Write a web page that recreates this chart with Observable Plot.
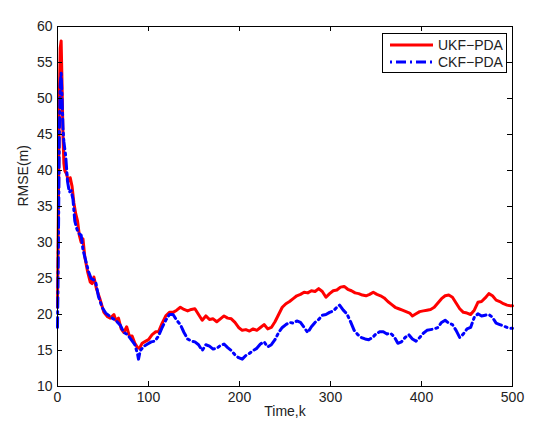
<!DOCTYPE html>
<html>
<head>
<meta charset="utf-8">
<script src="https://cdn.jsdelivr.net/npm/d3@7"></script>
<script src="https://cdn.jsdelivr.net/npm/@observablehq/plot@0.6"></script>
<style>
  html, body { margin: 0; padding: 0; background: #fff; }
  #chart { position: relative; width: 556px; height: 431px; }
  #legend { position: absolute; left: 382px; top: 33px; width: 123px; height: 38px;
    border: 1px solid #000; background: #fff; box-sizing: content-box;
    font-family: 'Liberation Sans', Arial, Helvetica, sans-serif; font-size: 14px; color: #222; }
  #legend .row { position: absolute; left: 0; height: 17px; display: flex; align-items: center; }
  #legend svg { display: block; margin-left: 7px; margin-right: 5px; }
</style>
</head>
<body>
<div id="chart"><div id="legend"></div></div>
<script>
// ---- data ----
const seriesNames = ["UKF\u2212PDA", "CKF\u2212PDA"];
const seriesColors = ["#ff0000", "#0000ff"];
const seriesDash = [null, "2,4,10,4"];
const xTicks = [0, 100, 200, 300, 400, 500];
const yTicks = [10, 15, 20, 25, 30, 35, 40, 45, 50, 55, 60];
const xLabel = "Time,k";
const yLabel = "RMSE(m)";

const ukfK = [0,1,2,3,4,5,6,7,8,10,12,14,16,18,20,22,24,26,28,30,33,36,38,40,43,47,51,55,58,62,64,67,70,73,76,79,82,85,88,90,93,97,100,104,108,111,115,119,123,127,131,135,139,143,147,151,155,159,163,167,171,175,179,183,187,191,195,199,203,207,211,215,219,223,227,231,235,239,243,247,251,255,259,263,267,271,275,279,283,287,291,295,299,303,307,311,315,319,323,327,331,335,339,343,347,351,355,359,363,367,371,375,379,383,387,390,394,398,402,406,410,414,418,422,426,430,434,438,442,446,450,454,458,462,466,470,474,478,482,486,490,494,498,500];
const ukfV = [21,35,50,57,58,52,45,41,40,39.5,38.5,39,37.8,35.5,34,33,31,30,30.5,28,26,24.5,24.3,25.2,23.5,22,20.3,19.7,19.5,20,19.2,19.5,18,17.5,18.3,17,17,16,15.4,15.3,16,16.3,16.5,17.2,17.6,17.6,18.8,19.8,20.3,20.3,20.6,21,20.7,20.5,20.7,20.8,20,19.2,19.8,19.3,19.4,19,19.4,19.8,19.5,19.4,18.9,18.2,17.8,17.9,17.7,18,17.8,18.2,18.6,18,18.2,19,20,21,21.5,21.8,22.2,22.6,22.8,23.1,23,23.3,23.2,23.6,23.2,22.4,22.9,23.3,23.4,23.8,23.9,23.5,23.3,23,22.9,22.7,22.6,22.8,23.1,22.8,22.6,22.3,21.8,21.4,21,20.8,20.6,20.4,20.2,19.8,20.1,20.4,20.5,20.6,20.7,21,21.6,22.2,22.6,22.7,22.4,21.6,20.8,20.3,20.2,20,20.6,21.7,21.8,22.3,22.9,22.6,22,21.8,21.5,21.3,21.2,21.2];

const ckfK = [0,1,2,3,4,5,6,7,9,11,13,15,17,19,21,23,26,28,31,34,37,40,42,45,49,53,57,60,64,69,73,77,81,85,88,89,91,95,99,103,107,111,115,119,123,127,131,135,139,143,147,151,155,159,163,167,171,175,179,183,187,191,195,199,203,207,211,215,219,223,227,231,235,239,243,247,251,255,259,263,267,271,275,279,283,287,291,295,299,303,307,310,314,318,322,326,330,334,338,342,346,350,354,358,362,366,370,374,378,382,386,390,394,398,402,406,410,414,418,422,426,430,434,438,442,446,450,454,458,462,466,470,474,478,482,486,490,494,498,500];
const ckfV = [18.2,30,45,52,53.5,50,46,44,42,38.5,37,37.2,36,33,32,31.3,31,29,27.5,26,25,24.8,24.5,22.5,21,20.2,19.8,19.5,19.2,18.5,17.5,17.2,16.5,15.8,14.5,13.8,15,15.6,15.9,16.2,16.3,17,18.2,19.2,20,20,19.2,18.6,17.5,16.6,16.3,16.2,15.8,15,15.8,15.6,15.2,15.3,15.7,15.9,15.4,15,14.4,14,13.8,14.3,14.6,15,15.3,15.9,16.2,15.5,15.8,16.5,17.5,18.2,18.6,18.9,18.8,19.1,18.9,18.2,17.5,18.3,18.9,19.3,19.9,20,20.3,20.5,21,21.3,20.6,20.1,19,17.8,17.2,16.8,16.6,16.5,16.8,17.3,17.6,17.6,17.3,17.4,16.9,16,16.2,16.8,17.2,16.6,16.3,16.8,17.4,17.8,17.9,18,18.2,18.9,19.2,18.8,18.6,17.8,16.8,17.3,18,18.2,19.6,20.1,19.8,19.9,20,19.6,18.8,18.6,18.4,18.2,18.1,18.1];

const ukf = ukfK.map((k, i) => ({k, v: ukfV[i]}));
const ckf = ckfK.map((k, i) => ({k, v: ckfV[i]}));

const W = 556, H = 431;
const mL = 57, mR = 44, mT = 26, mB = 45;
const fw = W - mL - mR, fh = H - mT - mB;
const tickLen = 5;

const chart = Plot.plot({
  width: W, height: H,
  marginLeft: mL, marginRight: mR, marginTop: mT, marginBottom: mB,
  x: {domain: [0, 500]},
  y: {domain: [10, 60]},
  style: {fontFamily: "'Liberation Sans', Arial, Helvetica, sans-serif", fontSize: "14px", background: "#fff", color: "#222"},
  marks: [
    Plot.line(ukf, {x: "k", y: "v", stroke: seriesColors[0], strokeWidth: 3, strokeLinejoin: "round"}),
    Plot.line(ckf, {x: "k", y: "v", stroke: seriesColors[1], strokeWidth: 3, strokeDasharray: "10,4,2,4"}),
    Plot.frame({stroke: "#000", strokeWidth: 1}),
    Plot.tickX(xTicks, {x: d => d, insetTop: fh - tickLen, stroke: "#000"}),
    Plot.tickX(xTicks, {x: d => d, insetBottom: fh - tickLen, stroke: "#000"}),
    Plot.tickY(yTicks, {y: d => d, insetRight: fw - tickLen, stroke: "#000"}),
    Plot.tickY(yTicks, {y: d => d, insetLeft: fw - tickLen, stroke: "#000"}),
    Plot.axisX(xTicks, {anchor: "bottom", tickSize: 0, tickPadding: 6, label: null, fill: "#222"}),
    Plot.axisY(yTicks, {anchor: "left", tickSize: 0, tickPadding: 5, label: null, fill: "#222"}),
    Plot.text([xLabel], {frameAnchor: "bottom", dy: 29, fill: "#222", fontSize: 14}),
    Plot.text([yLabel], {frameAnchor: "left", dx: -34, rotate: -90, fill: "#222", fontSize: 14})
  ]
});
const host = document.getElementById("chart");
host.insertBefore(chart, host.firstChild);

// ---- legend (top-right inside the axes) ----
const legend = d3.select("#legend");
const rowTops = [2, 19];
seriesNames.forEach((name, i) => {
  const row = legend.append("div").attr("class", "row").style("top", rowTops[i] + "px");
  const s = row.append("svg").attr("width", 43).attr("height", 8);
  const ln = s.append("line").attr("x1", 0).attr("x2", 43).attr("y1", 4).attr("y2", 4)
    .attr("stroke", seriesColors[i]).attr("stroke-width", 3);
  if (seriesDash[i]) ln.attr("stroke-dasharray", seriesDash[i]);
  row.append("span").text(name);
});
</script>
</body>
</html>
